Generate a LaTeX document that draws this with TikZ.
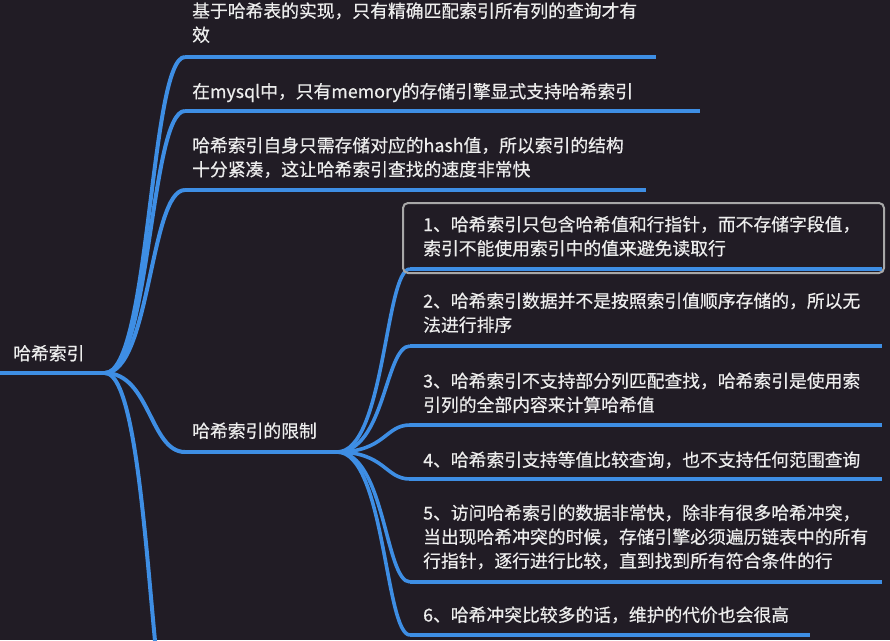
\documentclass[tikz,border=0pt]{standalone}
\usepackage{fontspec}
\setmainfont{Noto Sans CJK SC}[FakeBold=0.5]
\definecolor{bg}{HTML}{211C25}
\definecolor{branch}{HTML}{3E8EE4}
\definecolor{txt}{HTML}{EDEDED}
\definecolor{selbox}{HTML}{A8A8A8}
\tikzset{
  lbl/.style={anchor=base west, inner sep=0pt, text=txt, font=\fontsize{17.8}{24}\selectfont, align=left},
  link/.style={draw=branch, line width=4pt},
  sublink/.style={draw=branch, line width=3.6pt},
  uline/.style={draw=branch, line width=4pt},
  selframe/.style={draw=selbox, line width=2pt, rounded corners=5pt},
}
\begin{document}
\begin{tikzpicture}[x=1pt,y=-1pt]
\fill[bg] (0,0) rectangle (890,640);
\useasboundingbox (0,0) rectangle (890,640);
\clip (0,0) rectangle (890,640);

% root
\node[lbl] (root) at (13,360) {哈希索引};
\coordinate (r0) at (0,373);
\coordinate (R) at (105,373);
\draw[uline] (r0) -- (R);

% level 1 underline coordinates
\coordinate (s1) at (185,57);  \coordinate (e1) at (656,57);
\coordinate (s2) at (185,111); \coordinate (e2) at (700,111);
\coordinate (s3) at (185,190); \coordinate (e3) at (646,190);
\coordinate (s4) at (185,452); \coordinate (L) at (337,452);
\coordinate (s5) at (175,745);

% multi-line nodes: anchor is the baseline of the last line
\node[lbl] (n1) at (192,41.5) {基于哈希表的实现，只有精确匹配索引所有列的查询才有\\效};
\node[lbl] (n2) at (192,98) {在mysql中，只有memory的存储引擎显式支持哈希索引};
\node[lbl] (n3) at (192,176) {哈希索引自身只需存储对应的hash值，所以索引的结构\\十分紧凑，这让哈希索引查找的速度非常快};
\node[lbl] (n4) at (192,437.5) {哈希索引的限制};

\foreach \s in {s1,s2,s3,s4}{
  \draw[link] (R) .. controls +(45,0) and +(-35,0) .. (\s);
}
\draw[link] (R) .. controls +(45,0) and +(-25,0) .. (s5);
\draw[uline] (s1) -- (e1);
\draw[uline] (s2) -- (e2);
\draw[uline] (s3) -- (e3);
\draw[uline] (s4) -- (L);

% level 2
\coordinate (t1) at (410,269); \coordinate (f1) at (882,269);
\coordinate (t2) at (410,346); \coordinate (f2) at (882,346);
\coordinate (t3) at (410,425); \coordinate (f3) at (882,425);
\coordinate (t4) at (410,479); \coordinate (f4) at (882,479);
\coordinate (t5) at (410,582); \coordinate (f5) at (882,582);
\coordinate (t6) at (410,635); \coordinate (f6) at (810,635);

\foreach \t in {t1,t2,t3,t4,t5,t6}{
  \draw[sublink] (L) .. controls +(48,0) and +(-25,0) .. (\t);
}
\foreach \a/\b in {t1/f1,t2/f2,t3/f3,t4/f4,t5/f5,t6/f6}{
  \draw[uline] (\a) -- (\b);
}

\node[lbl] (c1) at (423,255) {1、哈希索引只包含哈希值和行指针，而不存储字段值，\\索引不能使用索引中的值来避免读取行};
\node[lbl] (c2) at (423,331.5) {2、哈希索引数据并不是按照索引值顺序存储的，所以无\\法进行排序};
\node[lbl] (c3) at (423,411.5) {3、哈希索引不支持部分列匹配查找，哈希索引是使用索\\引列的全部内容来计算哈希值};
\node[lbl] (c4) at (423,466.5) {4、哈希索引支持等值比较查询，也不支持任何范围查询};
\node[lbl] (c5) at (423,567.5) {5、访问哈希索引的数据非常快，除非有很多哈希冲突，\\当出现哈希冲突的时候，存储引擎必须遍历链表中的所有\\行指针，逐行进行比较，直到找到所有符合条件的行};
\node[lbl] (c6) at (423,621.5) {6、哈希冲突比较多的话，维护的代价也会很高};

\draw[selframe] (403,203) rectangle (884,273);
\end{tikzpicture}
\end{document}
